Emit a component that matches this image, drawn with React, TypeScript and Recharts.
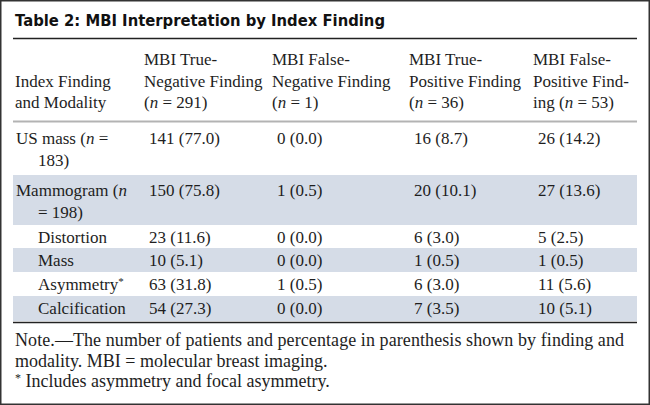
import React from "react";
import { Surface, Layer, Rectangle } from "recharts";

/* ── data ───────────────────────────── */
const TITLE = "Table 2: MBI Interpretation by Index Finding";

// {…} = italic, ^ = superscript asterisk
const HEAD_COLS: string[][] = [
  ["", "Index Finding", "and Modality"],
  ["MBI True-", "Negative Finding", "({n} = 291)"],
  ["MBI False-", "Negative Finding", "({n} = 1)"],
  ["MBI True-", "Positive Finding", "({n} = 36)"],
  ["MBI False-", "Positive Find-", "ing ({n} = 53)"],
];

const rowLabels: string[][] = [
  ["US mass ({n} =", "183)"],
  ["Mammogram ({n}", "= 198)"],
  ["Distortion"],
  ["Mass"],
  ["Asymmetry^"],
  ["Calcification"],
];
const subRow = [false, false, true, true, true, true];

const trueNeg = [141, 150, 23, 10, 63, 54];
const trueNegPct = [77.0, 75.8, 11.6, 5.1, 31.8, 27.3];
const falseNeg = [0, 1, 0, 0, 1, 0];
const falseNegPct = [0.0, 0.5, 0.0, 0.0, 0.5, 0.0];
const truePos = [16, 20, 6, 1, 6, 7];
const truePosPct = [8.7, 10.1, 3.0, 0.5, 3.0, 3.5];
const falsePos = [26, 27, 5, 1, 11, 10];
const falsePosPct = [14.2, 13.6, 2.5, 0.5, 5.6, 5.1];

const NOTES = [
  "Note.—The number of patients and percentage in parenthesis shown by finding and",
  "modality. MBI = molecular breast imaging.",
  "^ Includes asymmetry and focal asymmetry.",
];

/* ── layout ───────────────────────────── */
const W = 650;
const H = 405;
const LEFT = 13;
const RIGHT = 637;
const COL_X = [15, 144, 272, 409, 533];
const DATA_PAD = 5;
const ROW_H = [52, 50, 23, 24, 24, 25];
const BODY_TOP = 123;
const BAND = "#d5dce7";
const SERIF = "'Liberation Serif', 'Times New Roman', serif";
const FS = 17;
const INK = "#1e1e1e";

function rich(str: string, key: string) {
  const parts: React.ReactNode[] = [];
  str.split(/(\{[^}]*\}|\^)/).forEach((p, i) => {
    if (!p) return;
    if (p === "^") {
      parts.push(
        <tspan key={key + i} fontSize={11} dy={-5}>*</tspan>
      );
    } else if (p.startsWith("{")) {
      parts.push(
        <tspan key={key + i} fontStyle="italic">{p.slice(1, -1)}</tspan>
      );
    } else {
      parts.push(<tspan key={key + i}>{p}</tspan>);
    }
  });
  return parts;
}

export default function App() {
  const cols = [
    [trueNeg, trueNegPct],
    [falseNeg, falseNegPct],
    [truePos, truePosPct],
    [falsePos, falsePosPct],
  ];

  let y = BODY_TOP;
  const rows = rowLabels.map((lines, r) => {
    const top = y;
    y += ROW_H[r];
    return { top, h: ROW_H[r], lines, r };
  });
  const bodyBottom = y;

  return (
    <div style={{ position: "absolute", left: 0, top: 0, background: "#fff" }}>
      <Surface width={W} height={H} viewBox={{ x: 0, y: 0, width: W, height: H }}>
        <rect x={0} y={0} width={W} height={H} fill="#fff" />

        {/* title */}
        <text x={15} y={26} fontFamily="'DejaVu Sans', Arial, sans-serif" fontWeight={700}
          fontSize={15} fill="#111" textLength={370} lengthAdjust="spacingAndGlyphs">
          {TITLE}
        </text>
        <line x1={LEFT} x2={RIGHT} y1={38.5} y2={38.5} stroke="#222" strokeWidth={1.6} />

        {/* header */}
        <Layer>
          {HEAD_COLS.map((c, ci) =>
            c.map((t, li) =>
              t ? (
                <text key={`h${ci}${li}`} x={COL_X[ci]} y={65 + li * 21.5}
                  fontFamily={SERIF} fontSize={FS} fill={INK}>
                  {rich(t, `h${ci}${li}`)}
                </text>
              ) : null
            )
          )}
        </Layer>
        <line x1={LEFT} x2={RIGHT} y1={121.5} y2={121.5} stroke="#b3b3b3" strokeWidth={2} />

        {/* bands */}
        {rows.map((row) =>
          row.r % 2 === 1 ? (
            <Rectangle key={`b${row.r}`} x={LEFT} y={row.top} width={RIGHT - LEFT}
              height={row.h} fill={BAND} />
          ) : null
        )}

        {/* body */}
        {rows.map((row) => {
          const base = row.top + (row.lines.length > 1 ? 21 : 18);
          return (
            <Layer key={`r${row.r}`}>
              {row.lines.map((t, li) => (
                <text key={li} x={subRow[row.r] || li > 0 ? 38 : 16} y={base + li * 21.5}
                  fontFamily={SERIF} fontSize={FS} fill={INK}>
                  {rich(t, `l${row.r}${li}`)}
                </text>
              ))}
              {cols.map(([n, pct], ci) => (
                <text key={`c${ci}`} x={COL_X[ci + 1] + DATA_PAD} y={base}
                  fontFamily={SERIF} fontSize={FS} fill={INK}>
                  {`${n[row.r]} (${pct[row.r].toFixed(1)})`}
                </text>
              ))}
            </Layer>
          );
        })}
        <line x1={LEFT} x2={RIGHT} y1={bodyBottom + 1.5} y2={bodyBottom + 1.5} stroke="#222" strokeWidth={1.6} />

        {/* notes */}
        {NOTES.map((t, i) => (
          <text key={`n${i}`} x={15} y={346 + i * 20.5} fontFamily={SERIF} fontSize={18} fill={INK}
            textLength={i === 0 ? 609 : undefined} lengthAdjust="spacing">
            {t.startsWith("^") ? (
              <>
                <tspan fontSize={12} dy={-5}>*</tspan>
                <tspan dy={5}>{t.slice(1)}</tspan>
              </>
            ) : (
              t
            )}
          </text>
        ))}

        {/* frame */}
        <rect x={0.75} y={0.75} width={W - 1.5} height={H - 1.5} fill="none" stroke="#333" strokeWidth={1.5} />
      </Surface>
    </div>
  );
}
